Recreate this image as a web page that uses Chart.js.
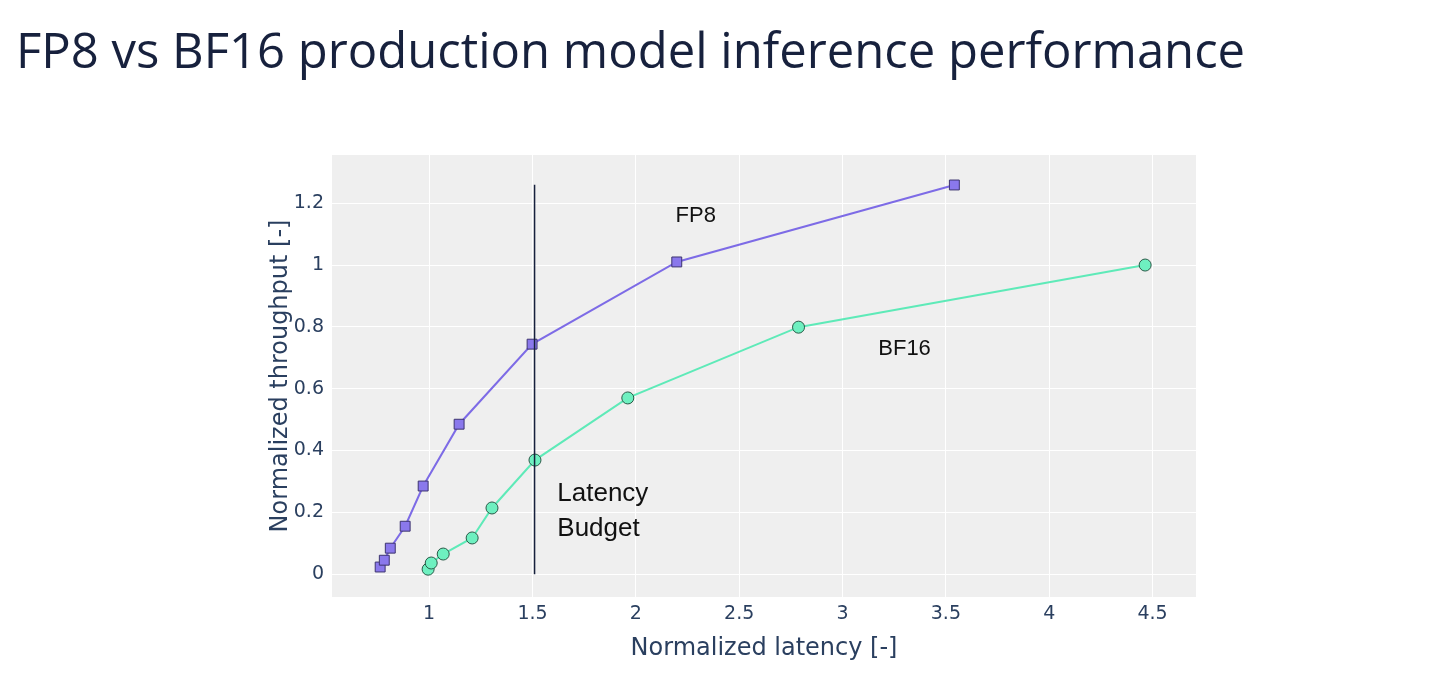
<!DOCTYPE html>
<html>
<head>
<meta charset="utf-8">
<script src="https://cdn.jsdelivr.net/npm/chart.js@4"></script>
<style>
  body { margin: 0; background: #fff; width: 1456px; height: 684px; overflow: hidden; font-family: "Open Sans", sans-serif; }
  h1 { position: absolute; left: 16px; top: 16px; margin: 0; font-weight: 400; font-size: 49px; color: #17213d; }
  #wrap { position: absolute; left: 0; top: 0; width: 1456px; height: 684px; }
</style>
</head>
<body>
<h1>FP8 vs BF16 production model inference performance</h1>
<div id="wrap"><canvas id="myChart"></canvas></div>
<script>
const ctx = document.getElementById("myChart");
const fp8 = [
  [0.763, 0.023], [0.783, 0.045], [0.812, 0.084], [0.884, 0.155], [0.971, 0.285],
  [1.145, 0.485], [1.498, 0.744], [2.198, 1.01], [3.541, 1.259],
];
const bf16 = [
  [0.995, 0.016], [1.01, 0.036], [1.068, 0.065], [1.208, 0.117], [1.304, 0.214],
  [1.512, 0.369], [1.961, 0.57], [2.787, 0.799], [4.464, 1.0],
];
const budget = [[1.51, 0], [1.51, 1.26]];
const toXY = (a) => a.map((p) => ({ x: p[0], y: p[1] }));
const navy = "#2a3f5f";

const plotBg = {
  id: "plotBg",
  beforeDraw(chart) {
    const a = chart.chartArea, c = chart.ctx;
    c.save();
    c.fillStyle = "#efefef";
    c.fillRect(a.left, a.top, a.right - a.left, a.bottom - a.top);
    c.restore();
  },
  afterDatasetsDraw(chart) {
    const c = chart.ctx, xs = chart.scales.x, ys = chart.scales.y;
    c.save();
    c.fillStyle = "#111";
    c.font = "22px 'Liberation Sans', Arial, sans-serif";
    c.textBaseline = "middle";
    c.textAlign = "center";
    c.fillText("FP8", xs.getPixelForValue(2.29), ys.getPixelForValue(1.16));
    c.fillText("BF16", xs.getPixelForValue(3.3), ys.getPixelForValue(0.73));
    c.font = "26px 'Liberation Sans', Arial, sans-serif";
    c.textAlign = "left";
    c.fillText("Latency", xs.getPixelForValue(1.62), ys.getPixelForValue(0.26));
    c.fillText("Budget", xs.getPixelForValue(1.62), ys.getPixelForValue(0.145));
    c.restore();
  },
};

new Chart(ctx, {
  type: "scatter",
  data: {
    datasets: [
      {
        label: "Latency Budget",
        data: toXY(budget),
        showLine: true,
        borderColor: "#17213d",
        borderWidth: 1.5,
        pointRadius: 0,
      },
      {
        label: "FP8",
        data: toXY(fp8),
        showLine: true,
        borderColor: "#7d6be6",
        borderWidth: 2,
        pointStyle: "rect",
        pointRadius: 7,
        backgroundColor: "#8a78ec",
        pointBorderColor: "#3d3470",
        pointBorderWidth: 1,
      },
      {
        label: "BF16",
        data: toXY(bf16),
        showLine: true,
        borderColor: "#5eeab8",
        borderWidth: 2,
        pointStyle: "circle",
        pointRadius: 6,
        backgroundColor: "#6ef0c0",
        pointBorderColor: "#2a5a48",
        pointBorderWidth: 1,
      },
    ],
  },
  options: {
    responsive: true,
    maintainAspectRatio: false,
    animation: false,
    layout: { padding: { left: 262, right: 260, top: 155, bottom: 17 } },
    plugins: { legend: { display: false }, tooltip: { enabled: false } },
    scales: {
      x: {
        type: "linear",
        min: 0.53,
        max: 4.71,
        afterFit: (s) => { s.height = 70; },
        afterBuildTicks: (s) => { s.ticks = [1, 1.5, 2, 2.5, 3, 3.5, 4, 4.5].map((v) => ({ value: v })); },
        ticks: { color: navy, font: { size: 19, family: "DejaVu Sans" }, padding: 6, callback: (v) => String(v) },
        grid: { color: "#ffffff", lineWidth: 1, drawTicks: false },
        border: { display: false },
        title: { display: true, text: "Normalized latency [-]", color: navy, font: { size: 24, family: "DejaVu Sans" }, padding: { top: 0 } },
      },
      y: {
        type: "linear",
        min: -0.074,
        max: 1.356,
        afterFit: (s) => { s.width = 70; },
        afterBuildTicks: (s) => { s.ticks = [0, 0.2, 0.4, 0.6, 0.8, 1, 1.2].map((v) => ({ value: v })); },
        ticks: { color: navy, font: { size: 19, family: "DejaVu Sans" }, padding: 8, callback: (v) => String(v) },
        grid: { color: "#ffffff", lineWidth: 1, drawTicks: false },
        border: { display: false },
        title: { display: true, text: "Normalized throughput [-]", color: navy, font: { size: 24, family: "DejaVu Sans" }, padding: { bottom: 2 } },
      },
    },
  },
  plugins: [plotBg],
});
</script>
</body>
</html>
